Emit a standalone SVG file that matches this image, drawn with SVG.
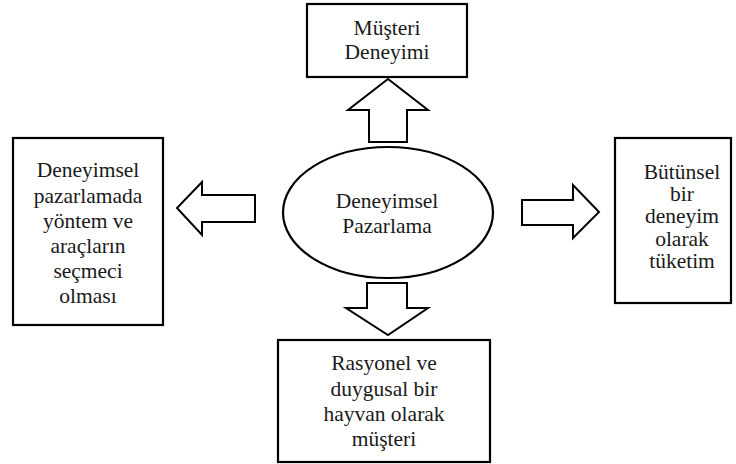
<svg xmlns="http://www.w3.org/2000/svg" width="736" height="464" viewBox="0 0 736 464">
<style>
.box{fill:#fff;stroke:#000;stroke-width:2.2}
.arr{fill:#fff;stroke:#000;stroke-width:2;stroke-linejoin:miter}
text{font-family:"Liberation Serif","Tinos","Times New Roman","DejaVu Serif",serif;font-size:21.5px;fill:#1a1a1a;text-anchor:middle}
</style>
<rect width="736" height="464" fill="#fff"/>
<g id="connectors">
<polygon class="arr" points="369,142 369,110 348,110 388,79 428,110 407,110 407,142"/>
<polygon class="arr" points="367,283 407,283 407,308 428,308 388,335 346,308 367,308"/>
<polygon class="arr" points="255,195 202,195 202,182 177,208 202,235 202,222 255,222"/>
<polygon class="arr" points="522,200 573,200 573,185 599,212 573,238 573,225 522,225"/>
</g>
<g id="center">
<ellipse class="box" cx="388" cy="212.5" rx="105" ry="65.5"/>
<text x="387" y="208">Deneyimsel</text>
<text x="387" y="233">Pazarlama</text>
</g>
<g id="top">
<rect class="box" x="307" y="4" width="160" height="73"/>
<text x="387" y="35">Müşteri</text>
<text x="387" y="59">Deneyimi</text>
</g>
<g id="left">
<rect class="box" x="13" y="138" width="150" height="187"/>
<text x="88" y="177">Deneyimsel</text>
<text x="88" y="203">pazarlamada</text>
<text x="88" y="228">yöntem ve</text>
<text x="88" y="253">araçların</text>
<text x="88" y="278">seçmeci</text>
<text x="88" y="303">olması</text>
</g>
<g id="right">
<rect class="box" x="615" y="138" width="116" height="165"/>
<text x="682" y="179">Bütünsel</text>
<text x="682" y="201">bir</text>
<text x="682" y="223">deneyim</text>
<text x="682" y="246">olarak</text>
<text x="682" y="268">tüketim</text>
</g>
<g id="bottom">
<rect class="box" x="278" y="340" width="212" height="122"/>
<text x="384" y="370">Rasyonel ve</text>
<text x="384" y="396">duygusal bir</text>
<text x="384" y="421">hayvan olarak</text>
<text x="384" y="446">müşteri</text>
</g>
</svg>
